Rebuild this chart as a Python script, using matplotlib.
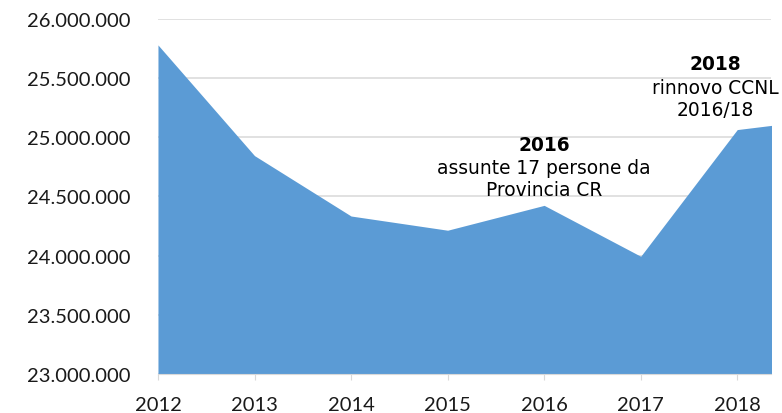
import matplotlib
matplotlib.use("Agg")
import matplotlib.pyplot as plt
from matplotlib.ticker import FuncFormatter, MultipleLocator

# valori (2019 e' tagliato a destra)
anni = ["2012", "2013", "2014", "2015", "2016", "2017", "2018", "2019"]
valori = [25780000, 24845000, 24335000, 24215000, 24425000, 23995000, 25065000, 25165000]

y_min, y_max = 23000000, 26000000

fig = plt.figure(figsize=(7.82, 4.14), dpi=100)
ax = fig.add_axes([0.202, 0.094, 0.784, 0.858])

x = list(range(len(anni)))
ax.fill_between(x, y_min, valori, color="#5B9BD5", linewidth=0, zorder=2)

ax.set_xlim(0, 6.35)
ax.set_ylim(y_min, y_max)
ax.yaxis.set_major_locator(MultipleLocator(500000))
ax.yaxis.set_major_formatter(FuncFormatter(lambda v, p: f"{int(v):,}".replace(",", ".")))
ax.set_xticks(x[:7])
ax.set_xticklabels(anni[:7])

ax.grid(axis="y", color="#D9D9D9", linewidth=1.1, zorder=1)
for s in ["top", "right", "left"]:
    ax.spines[s].set_visible(False)
ax.spines["bottom"].set_color("#D9D9D9")
ax.spines["bottom"].set_zorder(3)

ax.tick_params(axis="y", length=0, pad=20, labelsize=14.5, labelcolor="#1a1a1a")
ax.tick_params(axis="x", length=4.5, color="#D9D9D9", pad=11, labelsize=14.5, labelcolor="#1a1a1a")
for lab in ax.get_xticklabels() + ax.get_yticklabels():
    lab.set_family("Lato")

# annotazioni
ax.text(4, 24940000, "2016", ha="center", va="center", fontsize=13.4,
        fontweight="bold", family="DejaVu Sans", zorder=4)
ax.text(4, 24655000, "assunte 17 persone da\nProvincia CR", ha="center", va="center",
        fontsize=13.4, family="DejaVu Sans", linespacing=1.2, zorder=4)
ax.text(5.77, 25620000, "2018", ha="center", va="center", fontsize=13.4,
        fontweight="bold", family="DejaVu Sans", zorder=4)
ax.text(5.77, 25330000, "rinnovo CCNL\n2016/18", ha="center", va="center",
        fontsize=13.4, family="DejaVu Sans", linespacing=1.2, zorder=4)

fig.savefig("out.png", dpi=100)
